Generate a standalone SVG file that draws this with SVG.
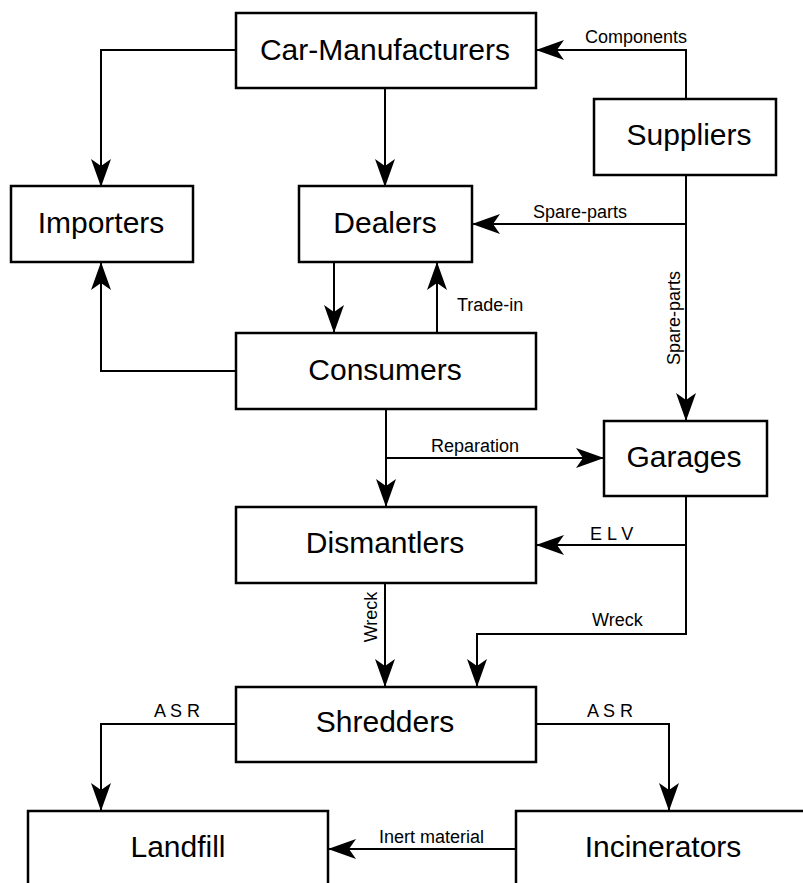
<svg xmlns="http://www.w3.org/2000/svg" width="803" height="883" viewBox="0 0 803 883">
<style>
.box{fill:#fff;stroke:#000;stroke-width:2.5}
.node{font-family:"Liberation Sans",Arial,Helvetica,sans-serif;font-size:30px;fill:#000;text-anchor:middle}
.lbl{font-family:"Liberation Sans",Arial,Helvetica,sans-serif;font-size:18px;fill:#000}
.c{fill:none;stroke:#000;stroke-width:2}
.a{marker-end:url(#arr)}
</style>
<defs>
<marker id="arr" viewBox="-29 -11 30 22" refX="0" refY="0" markerWidth="30" markerHeight="22" markerUnits="userSpaceOnUse" orient="auto">
<path d="M0,0 L-28,-10 L-21,0 L-28,10 Z" fill="#000"/>
</marker>
</defs>
<rect width="803" height="883" fill="#fff"/>
<g id="connectors">
<path class="c a" d="M236,50 H101 V187"/>
<path class="c a" d="M385,88 V187"/>
<path class="c a" d="M686,99 V50 H536"/>
<path class="c a" d="M686,175 V421"/>
<path class="c a" d="M686,224 H472"/>
<path class="c a" d="M334,262 V333"/>
<path class="c a" d="M437,333 V262"/>
<path class="c a" d="M236,371 H101 V262"/>
<path class="c a" d="M386,409 V507"/>
<path class="c a" d="M386,458 H604"/>
<path class="c a" d="M686,496 V545 H536"/>
<path class="c a" d="M686,545 V634 H477 V687"/>
<path class="c a" d="M385,583 V687"/>
<path class="c a" d="M236,724 H101 V811"/>
<path class="c a" d="M536,724 H669 V811"/>
<path class="c a" d="M516,849 H328"/>
<text class="lbl" x="636" y="43" text-anchor="middle">Components</text>
<text class="lbl" x="580" y="218" text-anchor="middle">Spare-parts</text>
<text class="lbl" transform="translate(680,318) rotate(-90)" text-anchor="middle">Spare-parts</text>
<text class="lbl" x="457" y="311">Trade-in</text>
<text class="lbl" x="431" y="452">Reparation</text>
<text class="lbl" x="590" y="540">E L V</text>
<text class="lbl" x="592" y="626">Wreck</text>
<text class="lbl" transform="translate(377,617) rotate(-90)" text-anchor="middle">Wreck</text>
<text class="lbl" x="154" y="717">A S R</text>
<text class="lbl" x="587" y="717">A S R</text>
<text class="lbl" x="379" y="843">Inert material</text>
</g>
<g id="car-manufacturers"><rect class="box" x="236" y="13" width="300" height="75"/><text class="node" x="385" y="60">Car-Manufacturers</text></g>
<g id="suppliers"><rect class="box" x="594" y="99" width="182" height="76"/><text class="node" x="689" y="145">Suppliers</text></g>
<g id="importers"><rect class="box" x="11" y="186" width="182" height="76"/><text class="node" x="101" y="233">Importers</text></g>
<g id="dealers"><rect class="box" x="299" y="186" width="173" height="76"/><text class="node" x="385" y="233">Dealers</text></g>
<g id="consumers"><rect class="box" x="236" y="333" width="300" height="76"/><text class="node" x="385" y="380">Consumers</text></g>
<g id="garages"><rect class="box" x="604" y="421" width="163" height="75"/><text class="node" x="684" y="467">Garages</text></g>
<g id="dismantlers"><rect class="box" x="236" y="507" width="300" height="76"/><text class="node" x="385" y="553">Dismantlers</text></g>
<g id="shredders"><rect class="box" x="236" y="687" width="300" height="75"/><text class="node" x="385" y="732">Shredders</text></g>
<g id="landfill"><rect class="box" x="28" y="811" width="300" height="90"/><text class="node" x="178" y="857">Landfill</text></g>
<g id="incinerators"><rect class="box" x="516" y="811" width="300" height="90"/><text class="node" x="663" y="857">Incinerators</text></g>
</svg>
